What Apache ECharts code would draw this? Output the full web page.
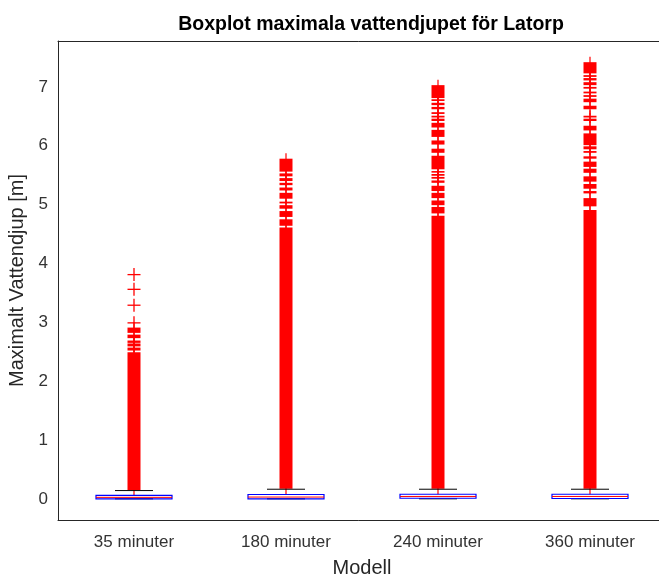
<!DOCTYPE html>
<html>
<head>
<meta charset="utf-8">
<script src="https://cdn.jsdelivr.net/npm/echarts@6/dist/echarts.min.js"></script>
<style>
  html, body { margin: 0; padding: 0; background: #fff; }
  #chart { width: 659px; height: 578px; }
</style>
</head>
<body>
<div id="chart"></div>
<script>
const categories = ['35 minuter', '180 minuter', '240 minuter', '360 minuter']

// [lower whisker, q1, median, q3, upper whisker]
const boxStats = [
  [0, 0.0, 0.025, 0.06, 0.14],
  [0, 0.0, 0.03, 0.073, 0.163],
  [0, 0.01, 0.04, 0.078, 0.163],
  [0, 0.005, 0.04, 0.078, 0.163]
]

// stretches where the outlier markers pile up into a solid column: [category, from, to]
const outlierBands = [
  [0, 0.15, 2.49], [0, 2.52, 2.57], [0, 2.59, 2.64], [0, 2.65, 2.69], [0, 2.73, 2.79], [0, 2.82, 2.91],

  [1, 0.17, 4.61], [1, 4.64, 4.75], [1, 4.79, 4.89], [1, 4.93, 4.99], [1, 5.02, 5.05], [1, 5.10, 5.20],
  [1, 5.24, 5.29], [1, 5.33, 5.37], [1, 5.40, 5.45], [1, 5.48, 5.53], [1, 5.56, 5.78],

  [2, 0.17, 4.81], [2, 4.85, 4.96], [2, 4.99, 5.07], [2, 5.11, 5.20], [2, 5.23, 5.32], [2, 5.37, 5.41],
  [2, 5.44, 5.47], [2, 5.49, 5.52], [2, 5.55, 5.57], [2, 5.60, 5.83], [2, 5.88, 5.95], [2, 6.02, 6.09],
  [2, 6.15, 6.27], [2, 6.31, 6.39], [2, 6.42, 6.46], [2, 6.48, 6.51], [2, 6.54, 6.57], [2, 6.62, 6.66],
  [2, 6.69, 6.73], [2, 6.76, 6.79], [2, 6.81, 7.03],

  [3, 0.17, 4.91], [3, 4.97, 5.11], [3, 5.19, 5.23], [3, 5.27, 5.35], [3, 5.39, 5.48], [3, 5.54, 5.61],
  [3, 5.64, 5.73], [3, 5.78, 5.82], [3, 5.88, 5.91], [3, 5.94, 5.99], [3, 6.01, 6.21], [3, 6.26, 6.34],
  [3, 6.42, 6.46], [3, 6.48, 6.51], [3, 6.62, 6.68], [3, 6.74, 6.80], [3, 6.83, 6.86], [3, 6.89, 6.92],
  [3, 6.97, 7.00], [3, 7.03, 7.08], [3, 7.11, 7.15], [3, 7.17, 7.20], [3, 7.23, 7.42]
]

// single outliers standing apart: [category, value]
const outliers = [[0, 2.99], [0, 3.29], [0, 3.56], [0, 3.81]]

const yTicks = [0, 1, 2, 3, 4, 5, 6, 7]

const FONT = '"Liberation Sans", Arial, Helvetica, sans-serif'
const AXIS = '#262626'
const RED = '#ff0000'

const chart = echarts.init(document.getElementById('chart'))

const option = {
  animation: false,
  backgroundColor: '#fff',
  textStyle: { fontFamily: FONT },
  title: {
    text: 'Boxplot maximala vattendjupet för Latorp',
    left: 366,
    textAlign: 'center',
    top: 10,
    textStyle: { fontFamily: FONT, fontSize: 19.5, fontWeight: 'bold', color: '#000' }
  },
  grid: { left: 58, right: -7, top: 41, bottom: 58, outerBoundsMode: 'none', containLabel: false },
  xAxis: [{
    type: 'category',
    data: categories,
    name: 'Modell',
    nameLocation: 'middle',
    nameGap: 38,
    nameTextStyle: { fontFamily: FONT, fontSize: 20, color: AXIS },
    axisLine: { onZero: false, lineStyle: { color: AXIS, width: 1 } },
    axisTick: { inside: true, alignWithLabel: true, length: 5, lineStyle: { color: AXIS } },
    axisLabel: { fontFamily: FONT, fontSize: 17, color: '#333', margin: 14 },
    splitLine: { show: false }
  }, {
    type: 'category',
    data: categories,
    position: 'top',
    axisLine: { onZero: false, lineStyle: { color: AXIS, width: 1 } },
    axisTick: { inside: true, alignWithLabel: true, length: 5, lineStyle: { color: AXIS } },
    axisLabel: { show: false },
    splitLine: { show: false }
  }],
  yAxis: {
    type: 'value',
    min: -0.36,
    max: 7.78,
    splitNumber: 8,
    name: 'Maximalt Vattendjup [m]',
    nameLocation: 'middle',
    nameGap: 28,
    nameTextStyle: { fontFamily: FONT, fontSize: 20, color: AXIS },
    axisLine: { show: true, onZero: false, lineStyle: { color: AXIS, width: 1 } },
    axisTick: { inside: true, length: 5, lineStyle: { color: AXIS } },
    axisLabel: {
      fontFamily: FONT, fontSize: 17, color: '#333', margin: 10,
      formatter: (v) => yTicks.includes(v) ? String(v) : ''
    },
    splitLine: { show: false }
  },
  series: [
    {
      type: 'custom',
      name: 'outlier bands',
      data: outlierBands,
      renderItem: (params, api) => {
        const cat = api.value(0)
        const lo = api.coord([cat, api.value(1)])
        const hi = api.coord([cat, api.value(2)])
        const x = lo[0]
        const h = Math.max(lo[1] - hi[1], 1.6)
        return {
          type: 'group',
          children: [
            {
              type: 'rect',
              shape: { x: x - 6.5, y: hi[1], width: 13, height: h },
              style: { fill: RED }
            },
            {
              type: 'line',
              shape: { x1: x, y1: hi[1] - 5.5, x2: x, y2: lo[1] + 5.5 },
              style: { stroke: RED, lineWidth: 1.2 }
            }
          ]
        }
      }
    },
    {
      type: 'custom',
      name: 'outliers',
      data: outliers,
      renderItem: (params, api) => {
        const p = api.coord([api.value(0), api.value(1)])
        return {
          type: 'group',
          children: [
            { type: 'line', shape: { x1: p[0] - 6.5, y1: p[1], x2: p[0] + 6.5, y2: p[1] }, style: { stroke: RED, lineWidth: 1.3 } },
            { type: 'line', shape: { x1: p[0], y1: p[1] - 6.5, x2: p[0], y2: p[1] + 6.5 }, style: { stroke: RED, lineWidth: 1.3 } }
          ]
        }
      }
    },
    {
      type: 'custom',
      name: 'boxes',
      data: boxStats.map((s, i) => [i].concat(s)),
      renderItem: (params, api) => {
        const cat = api.value(0)
        const band = api.size([1, 0])[0]
        const half = band / 4
        const cap = band / 8
        const y = (v) => api.coord([cat, v])[1]
        const x = api.coord([cat, 0])[0]
        const top = y(api.value(4))
        const bottom = y(api.value(2))
        return {
          type: 'group',
          children: [
            { type: 'line', shape: { x1: x - cap, y1: y(api.value(5)), x2: x + cap, y2: y(api.value(5)) }, style: { stroke: '#000', lineWidth: 1 } },
            { type: 'line', shape: { x1: x - cap, y1: y(api.value(1)), x2: x + cap, y2: y(api.value(1)) }, style: { stroke: '#000', lineWidth: 1 } },
            {
              type: 'rect',
              shape: { x: x - half, y: top, width: half * 2, height: bottom - top },
              style: { fill: 'none', stroke: '#0000ff', lineWidth: 1.2 }
            },
            { type: 'line', shape: { x1: x - half, y1: y(api.value(3)), x2: x + half, y2: y(api.value(3)) }, style: { stroke: RED, lineWidth: 1 } }
          ]
        }
      }
    }
  ]
}

chart.setOption(option)
</script>
</body>
</html>
